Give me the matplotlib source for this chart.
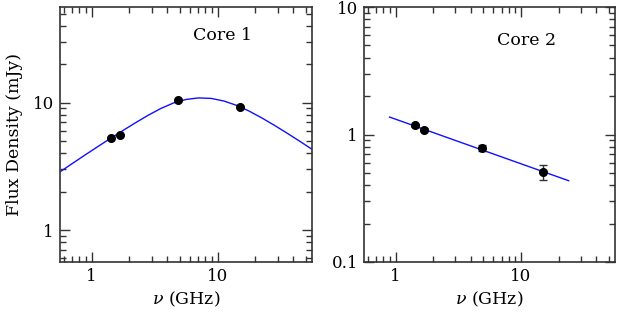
import matplotlib
matplotlib.use("Agg")
import matplotlib.pyplot as plt
from matplotlib.ticker import FixedLocator, NullFormatter, LogLocator

plt.rcParams['mathtext.fontset'] = 'dejavuserif'

# ---- data ----
freq_obs = [1.43, 1.67, 4.86, 15.0]
core1_flux = [5.3, 5.6, 10.4, 9.3]
core2_flux = [1.18, 1.09, 0.78, 0.51]
core2_err = [0.03, 0.03, 0.04, 0.07]

# model curve for Core 1
core1_model_freq = [0.562, 0.708, 0.891, 1.122, 1.413, 1.778, 2.239, 2.818, 3.548, 4.467,
                    5.623, 7.079, 8.913, 11.22, 14.13, 17.78, 22.39, 28.18, 35.48, 44.67, 56.23]
core1_model_flux = [2.864, 3.342, 3.890, 4.519, 5.236, 6.046, 6.960, 7.962, 8.995, 9.931,
                    10.59, 10.89, 10.79, 10.30, 9.528, 8.590, 7.603, 6.653, 5.781, 5.000, 4.305]

# power-law fit for Core 2 (end points)
core2_model_freq = [0.895, 24.0]
core2_model_flux = [1.37, 0.434]

xlim = (10**-0.25, 10**1.75)
ylim1 = (10**-0.25, 10**1.75)
ylim2 = (0.1, 10)

x_ticks = [1, 10]
x_labels = ['1', '10']
y1_ticks = [1, 10]
y1_labels = ['1', '10']
y2_ticks = [0.1, 1, 10]
y2_labels = ['0.1', '1', '10']

W, H = 617, 313
fig = plt.figure(figsize=(W / 100, H / 100), dpi=100)

ax1 = fig.add_axes([60 / W, (H - 262) / H, 252 / W, 255 / H])
ax2 = fig.add_axes([364.3 / W, (H - 262) / H, 250.7 / W, 255 / H])

serif = 'DejaVu Serif'
spine_c = '#333333'

def style(ax, yticks, ylabels, ylim):
    ax.set_xscale('log')
    ax.set_yscale('log')
    ax.set_xlim(*xlim)
    ax.set_ylim(*ylim)
    ax.xaxis.set_major_locator(FixedLocator(x_ticks))
    ax.set_xticklabels(x_labels, family=serif)
    ax.yaxis.set_major_locator(FixedLocator(yticks))
    ax.set_yticklabels(ylabels, family=serif)
    ax.xaxis.set_minor_locator(LogLocator(base=10, subs=range(2, 10)))
    ax.yaxis.set_minor_locator(LogLocator(base=10, subs=range(2, 10)))
    ax.xaxis.set_minor_formatter(NullFormatter())
    ax.yaxis.set_minor_formatter(NullFormatter())
    ax.tick_params(which='both', direction='in', top=True, right=True,
                   color=spine_c, width=1.0, labelsize=12)
    ax.tick_params(which='major', length=7.5, pad=4.5)
    ax.tick_params(which='minor', length=4.5)
    for s in ax.spines.values():
        s.set_color(spine_c)
        s.set_linewidth(1.2)
    ax.set_xlabel(r'$\nu$ (GHz)', fontsize=12.5, family=serif, labelpad=3)

style(ax1, y1_ticks, y1_labels, ylim1)
style(ax2, y2_ticks, y2_labels, ylim2)

ax1.plot(core1_model_freq, core1_model_flux, color='#1010ff', lw=1.0)
ax1.plot(freq_obs, core1_flux, 'o', color='black', ms=5.5)
ax1.text(0.643, 0.89, 'Core 1', transform=ax1.transAxes, ha='center', va='center',
         fontsize=12.5, family=serif)
ax1.set_ylabel('Flux Density (mJy)', fontsize=12.5, family=serif, labelpad=7)

ax2.plot(core2_model_freq, core2_model_flux, color='#1010ff', lw=1.0)
ax2.errorbar(freq_obs, core2_flux, yerr=core2_err, fmt='o', color='black', ms=5.5,
             ecolor='#333333', elinewidth=1.0, capsize=3)
ax2.text(0.649, 0.868, 'Core 2', transform=ax2.transAxes, ha='center', va='center',
         fontsize=12.5, family=serif)

fig.savefig('out.png', dpi=100)
